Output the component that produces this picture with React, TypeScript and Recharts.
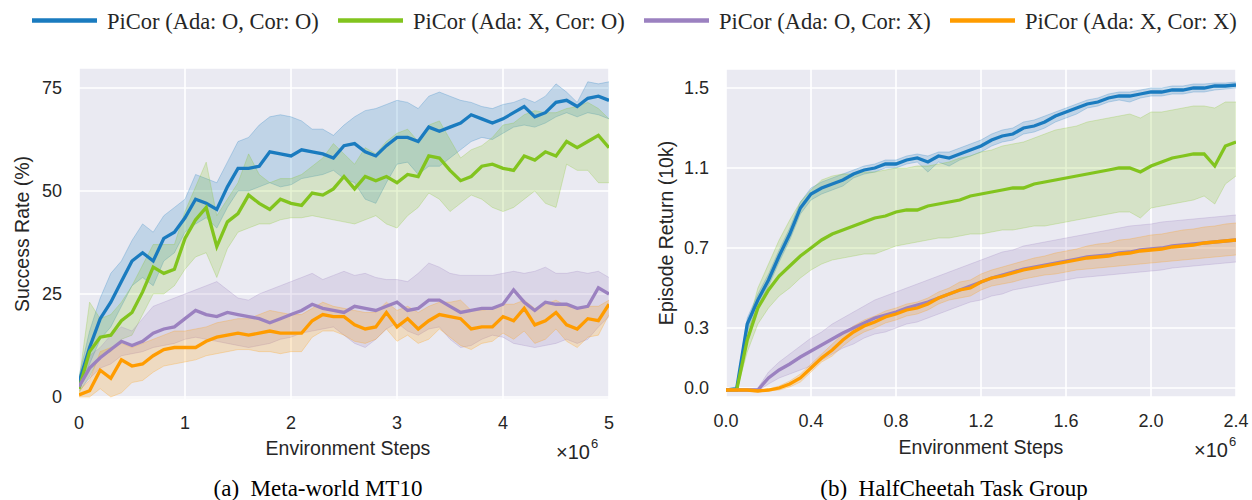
import React from 'react';
import { ComposedChart, Area, Line, XAxis, YAxis, CartesianGrid } from 'recharts';

const BLUE = '#1a7bbf';
const GREEN = '#82c41e';
const PURPLE = '#9b81c0';
const ORANGE = '#ff9c00';
const SANS = '"Liberation Sans", Arial, sans-serif';
const SERIF = '"Liberation Serif", "Times New Roman", serif';
const INK = '#262626';

const legendLabels = ['PiCor (Ada: O, Cor: O)', 'PiCor (Ada: X, Cor: O)', 'PiCor (Ada: O, Cor: X)', 'PiCor (Ada: X, Cor: X)'];

// (a) Meta-world MT10, steps in 1e6
const mtSteps = [
    0, 0.1, 0.2, 0.3, 0.4, 0.5, 0.6, 0.7, 0.8, 0.9,
    1.0, 1.1, 1.2, 1.3, 1.4, 1.5, 1.6, 1.7, 1.8, 1.9,
    2.0, 2.1, 2.2, 2.3, 2.4, 2.5, 2.6, 2.7, 2.8, 2.9,
    3.0, 3.1, 3.2, 3.3, 3.4, 3.5, 3.6, 3.7, 3.8, 3.9,
    4.0, 4.1, 4.2, 4.3, 4.4, 4.5, 4.6, 4.7, 4.8, 4.9,
    5.0,
];
const mtXTicks = [0, 1, 2, 3, 4, 5];
const mtYTicks = [0, 25, 50, 75];

const mtBlue = [
    3.5, 12, 19, 23, 28, 33, 35, 33, 38.5, 40,
    43.5, 48, 47, 45.5, 51, 55.5, 55.5, 56, 59.5, 59,
    58.5, 60, 59.5, 59, 58, 61, 61.5, 59.5, 58.5, 61,
    63, 63, 62, 65.5, 64.5, 65.5, 66.5, 68.5, 67.5, 66.5,
    67.5, 69, 70.5, 68, 69, 71.5, 72, 70.5, 72.5, 73,
    72,
];
const mtBlueHi = [
    5, 16, 24, 30, 33, 38, 42, 40, 44, 46,
    48, 54, 53, 52, 57, 62, 63, 66, 68, 68.5,
    68, 67, 65, 65, 63.5, 66, 68, 69.5, 70, 71,
    72, 71.5, 70, 73, 74, 73, 72, 71.5, 70.5, 70,
    71, 71.5, 72.5, 71.5, 73, 76, 74, 71.5, 76.5, 76,
    76.5,
];
const mtBlueLo = [
    2, 8, 14, 17, 22, 27, 29, 27, 33, 35,
    40, 42, 43.5, 41, 46, 50, 50, 51, 52, 51,
    51.5, 53, 53.5, 54, 55, 53, 52, 48, 47, 52,
    56.5, 57, 54, 56, 56, 58, 60, 62, 63, 62.5,
    64, 65.5, 66, 65.5, 66.5, 68, 69, 68, 69, 68.5,
    67.5,
];

const mtGreen = [
    2, 11, 14.5, 15, 18.5, 20.5, 25.5, 31.5, 30, 31,
    38.5, 43, 46, 36.5, 42.5, 44.5, 49, 47, 45.5, 48,
    47, 46.5, 49.5, 49, 50.5, 53.5, 50.5, 53.5, 52.5, 53.5,
    52, 54, 53.5, 58.5, 58, 55, 52.5, 53.5, 56, 56.5,
    55.5, 55, 58.5, 57.5, 59.5, 58.5, 62, 60.5, 62, 63.5,
    60.5,
];
const mtGreenHi = [
    4, 23, 19, 20, 23, 27, 32, 37, 37, 37,
    45, 51, 57, 44, 48, 52, 59, 54, 52, 53,
    53, 54, 56, 58, 61.5, 59, 56.5, 60.5, 59, 62,
    64, 65, 62, 66, 67, 62.5, 58, 60, 61, 63,
    66, 66.5, 68.5, 69.5, 69, 69, 70, 70.5, 71.5, 70,
    67.5,
];
const mtGreenLo = [
    1, 5, 10, 11, 14, 15, 20, 25, 25, 27,
    31, 34, 35, 29, 36, 40, 41, 42, 42, 43,
    43.5, 43.5, 44, 43.5, 43, 42.5, 42, 43, 44, 42,
    41, 44, 46, 49.5, 48, 45, 47, 49, 48, 46,
    45, 46, 48, 50, 47, 46, 56.5, 55, 55, 52,
    52,
];

const mtPurple = [
    2.5, 7, 9.5, 11.5, 13.5, 12.5, 13.5, 15.5, 16.5, 17,
    19, 21, 20, 19.5, 20.5, 20, 19.5, 19, 18, 19,
    20, 21, 22.5, 21.5, 21, 20.5, 22, 21.5, 21, 22,
    23, 21, 21.5, 23.5, 23.5, 22, 20.5, 21, 21.5, 21.5,
    22.5, 26, 23, 21, 23, 22.5, 22.5, 21.5, 22, 26.5,
    25,
];
const mtPurpleHi = [
    4, 10, 12, 15, 17, 16, 19, 22, 23, 24,
    25, 26, 27, 28, 26, 24, 23.5, 25, 26, 27,
    28, 29, 30, 28.5, 29.5, 30.5, 29.5, 30, 29, 28.5,
    28.5, 28, 30, 32.5, 31.5, 30, 29.5, 29.5, 29.5, 29.5,
    30, 30.5, 30, 30.5, 31.5, 30, 30, 30.5, 30, 30.5,
    29,
];
const mtPurpleLo = [
    1.5, 4.5, 7, 8, 10, 10.5, 11, 12, 12.5, 13,
    14, 14.5, 14, 13.5, 13, 12.5, 12, 12.5, 13, 14,
    14.5, 15.5, 16, 16.5, 17, 15, 13, 12, 14, 16.5,
    18, 16, 15, 16.5, 17, 14, 12, 12.5, 14, 15,
    14.5, 13, 12.5, 12, 12.5, 13, 14, 13, 14, 17,
    19.5,
];

const mtOrange = [
    0.5, 1.5, 6.5, 4.5, 9, 7.5, 8, 10, 11.5, 12,
    12, 12, 13.5, 14.5, 15, 15.5, 15, 15.5, 16, 15.5,
    15.5, 15.5, 18.5, 20, 19.5, 19.5, 17.5, 16.5, 17, 20.5,
    17, 19, 16.5, 18.5, 20, 19.5, 19, 16.5, 17, 17,
    19.5, 18.5, 21.5, 17.5, 18.5, 20.5, 17.5, 16.5, 19, 18.5,
    22.5,
];
const mtOrangeHi = [
    1.5, 4, 11, 12, 13, 12, 13, 14, 15, 16,
    16, 16.5, 17, 18, 18.5, 19, 19, 20, 21, 20.5,
    20, 20, 21.5, 23, 22, 21.5, 21, 20.5, 20.5, 23,
    21, 22, 20.5, 22, 23, 23, 23.5, 21, 21, 21.5,
    22.5, 22.5, 23.5, 21.5, 22.5, 23.5, 22, 21.5, 22, 22,
    23.5,
];
const mtOrangeLo = [
    0, 0, 2, 0, 1, 3.5, 4, 6, 7.5, 8,
    8.5, 9, 10, 10.5, 11, 11.5, 11.5, 11, 11, 10.5,
    11, 11, 14.5, 16, 16, 15, 13.5, 13, 14, 16.5,
    13.5, 15, 13, 14, 16.5, 14.5, 12.5, 11.5, 13, 13.5,
    15.5, 14, 16, 13, 14, 16.5, 13.5, 12, 14.5, 15,
    20,
];

// (b) HalfCheetah Task Group, steps in 1e6, return in 10k
const hcSteps = [
    0, 0.05, 0.1, 0.15, 0.2, 0.25, 0.3, 0.35, 0.4, 0.45,
    0.5, 0.55, 0.6, 0.65, 0.7, 0.75, 0.8, 0.85, 0.9, 0.95,
    1.0, 1.05, 1.1, 1.15, 1.2, 1.25, 1.3, 1.35, 1.4, 1.45,
    1.5, 1.55, 1.6, 1.65, 1.7, 1.75, 1.8, 1.85, 1.9, 1.95,
    2.0, 2.05, 2.1, 2.15, 2.2, 2.25, 2.3, 2.35, 2.4,
];
const hcXTicks = [0, 0.4, 0.8, 1.2, 1.6, 2.0, 2.4];
const hcYTicks = [0, 0.3, 0.7, 1.1, 1.5];

const hcBlue = [
    -0.01, -0.005, 0.32, 0.44, 0.54, 0.66, 0.77, 0.9, 0.97, 1.0,
    1.02, 1.04, 1.07, 1.09, 1.1, 1.12, 1.12, 1.14, 1.15, 1.13,
    1.16, 1.15, 1.17, 1.19, 1.21, 1.24, 1.26, 1.27, 1.3, 1.31,
    1.33, 1.36, 1.38, 1.4, 1.42, 1.43, 1.45, 1.46, 1.46, 1.47,
    1.48, 1.48, 1.49, 1.49, 1.5, 1.5, 1.51, 1.51, 1.515,
];
const hcBlueHi = [
    -0.005, 0.005, 0.35, 0.47, 0.57, 0.69, 0.8, 0.93, 1.0, 1.03,
    1.05, 1.07, 1.09, 1.11, 1.12, 1.14, 1.14, 1.16, 1.17, 1.16,
    1.18, 1.18, 1.2, 1.22, 1.24, 1.27, 1.29, 1.3, 1.33, 1.34,
    1.36, 1.38, 1.4, 1.42, 1.44, 1.45, 1.47, 1.48, 1.48, 1.49,
    1.5, 1.5, 1.51, 1.51, 1.52, 1.52, 1.525, 1.525, 1.53,
];
const hcBlueLo = [
    -0.015, -0.01, 0.28, 0.41, 0.51, 0.63, 0.74, 0.87, 0.94, 0.97,
    0.99, 1.01, 1.05, 1.07, 1.08, 1.1, 1.1, 1.12, 1.13, 1.08,
    1.13, 1.11, 1.14, 1.16, 1.18, 1.21, 1.23, 1.24, 1.27, 1.28,
    1.3, 1.33, 1.35, 1.37, 1.4, 1.41, 1.43, 1.44, 1.43, 1.45,
    1.46, 1.46, 1.47, 1.47, 1.48, 1.48, 1.49, 1.495, 1.5,
];

const hcGreen = [
    -0.01, -0.01, 0.24, 0.4, 0.49, 0.56, 0.61, 0.66, 0.7, 0.74,
    0.77, 0.79, 0.81, 0.83, 0.85, 0.86, 0.88, 0.89, 0.89, 0.91,
    0.92, 0.93, 0.94, 0.96, 0.97, 0.98, 0.99, 1.0, 1.0, 1.02,
    1.03, 1.04, 1.05, 1.06, 1.07, 1.08, 1.09, 1.1, 1.1, 1.08,
    1.11, 1.13, 1.15, 1.16, 1.17, 1.17, 1.11, 1.21, 1.23,
];
const hcGreenHi = [
    -0.005, 0.0, 0.3, 0.5, 0.62, 0.74, 0.84, 0.93, 0.99, 1.04,
    1.06, 1.07, 1.07, 1.08, 1.08, 1.09, 1.1, 1.1, 1.11, 1.11,
    1.12, 1.13, 1.15, 1.16, 1.18, 1.19, 1.21, 1.22, 1.23, 1.25,
    1.27, 1.29, 1.3, 1.31, 1.33, 1.34, 1.35, 1.36, 1.37, 1.35,
    1.38, 1.38, 1.39, 1.4, 1.41, 1.41, 1.4, 1.43, 1.43,
];
const hcGreenLo = [
    -0.015, -0.015, 0.18, 0.32, 0.4, 0.46, 0.5, 0.55, 0.59, 0.62,
    0.64, 0.65, 0.66, 0.67, 0.67, 0.69, 0.71, 0.72, 0.73, 0.74,
    0.75, 0.75, 0.76, 0.77, 0.77, 0.78, 0.79, 0.79, 0.8, 0.81,
    0.81, 0.82, 0.83, 0.84, 0.85, 0.86, 0.87, 0.88, 0.88, 0.85,
    0.9, 0.91, 0.92, 0.93, 0.94, 0.96, 0.92, 1.02, 1.06,
];

const hcPurple = [
    -0.01, -0.01, -0.01, -0.01, 0.05, 0.09, 0.12, 0.155, 0.185, 0.215,
    0.245, 0.275, 0.3, 0.325, 0.35, 0.365, 0.38, 0.4, 0.415, 0.43,
    0.45, 0.47, 0.49, 0.51, 0.53, 0.55, 0.565, 0.58, 0.595, 0.605,
    0.615, 0.625, 0.635, 0.645, 0.655, 0.66, 0.665, 0.675, 0.68, 0.69,
    0.695, 0.7, 0.71, 0.715, 0.72, 0.725, 0.73, 0.735, 0.74,
];
const hcPurpleHi = [
    -0.005, -0.005, -0.005, 0.0, 0.08, 0.13, 0.17, 0.21, 0.25, 0.28,
    0.32, 0.35, 0.38, 0.41, 0.44, 0.46, 0.48, 0.5, 0.52, 0.54,
    0.56, 0.58, 0.6, 0.62, 0.64, 0.66, 0.68, 0.69, 0.71, 0.72,
    0.73, 0.74, 0.75, 0.76, 0.77, 0.78, 0.79, 0.8, 0.81, 0.815,
    0.82, 0.83, 0.835, 0.84, 0.845, 0.85, 0.855, 0.86, 0.865,
];
const hcPurpleLo = [
    -0.015, -0.015, -0.015, -0.015, 0.02, 0.05, 0.07, 0.09, 0.11, 0.14,
    0.17, 0.2, 0.22, 0.25, 0.27, 0.28, 0.3, 0.32, 0.33, 0.35,
    0.37, 0.39, 0.41, 0.43, 0.44, 0.46, 0.47, 0.49, 0.5, 0.51,
    0.52, 0.53, 0.54, 0.55, 0.555, 0.56, 0.565, 0.57, 0.575, 0.58,
    0.585, 0.59, 0.6, 0.605, 0.61, 0.615, 0.62, 0.625, 0.63,
];

const hcOrange = [
    -0.01, -0.01, -0.01, -0.015, -0.01, 0.0, 0.02, 0.05, 0.1, 0.15,
    0.19, 0.24, 0.28, 0.31, 0.33, 0.355, 0.37, 0.39, 0.4, 0.42,
    0.45, 0.47, 0.49, 0.5, 0.53, 0.55, 0.56, 0.575, 0.59, 0.6,
    0.61, 0.62, 0.63, 0.64, 0.65, 0.655, 0.66, 0.67, 0.675, 0.685,
    0.69, 0.695, 0.705, 0.71, 0.715, 0.725, 0.73, 0.735, 0.74,
];
const hcOrangeHi = [
    -0.005, -0.005, -0.005, -0.01, -0.005, 0.01, 0.035, 0.07, 0.12, 0.17,
    0.22, 0.27, 0.31, 0.34, 0.36, 0.385, 0.4, 0.42, 0.43, 0.45,
    0.48, 0.5, 0.53, 0.54, 0.57, 0.59, 0.605, 0.62, 0.635, 0.65,
    0.66, 0.675, 0.685, 0.695, 0.71, 0.72, 0.725, 0.74, 0.745, 0.755,
    0.765, 0.77, 0.78, 0.79, 0.795, 0.805, 0.81, 0.82, 0.825,
];
const hcOrangeLo = [
    -0.015, -0.015, -0.015, -0.02, -0.015, -0.01, 0.005, 0.03, 0.08, 0.13,
    0.16, 0.21, 0.25, 0.28, 0.3, 0.325, 0.34, 0.36, 0.37, 0.39,
    0.42, 0.44, 0.45, 0.46, 0.49, 0.51, 0.52, 0.53, 0.545, 0.555,
    0.565, 0.57, 0.58, 0.59, 0.595, 0.6, 0.605, 0.61, 0.615, 0.62,
    0.625, 0.63, 0.635, 0.64, 0.645, 0.65, 0.655, 0.66, 0.665,
];

const SERIES = [
    { key: 'ada_cor', color: BLUE },
    { key: 'cor', color: GREEN },
    { key: 'ada', color: PURPLE },
    { key: 'none', color: ORANGE },
];

type Group = { mean: number[]; lo: number[]; hi: number[] };

const buildRows = (steps: number[], groups: Group[]) =>
    steps.map((t, i) => {
        const row: Record<string, any> = { t };
        groups.forEach((g, k) => {
            row[SERIES[k].key] = g.mean[i];
            row[SERIES[k].key + '_band'] = [g.lo[i], g.hi[i]];
        });
        return row;
    });

const mtRows = buildRows(mtSteps, [
    { mean: mtBlue, lo: mtBlueLo, hi: mtBlueHi },
    { mean: mtGreen, lo: mtGreenLo, hi: mtGreenHi },
    { mean: mtPurple, lo: mtPurpleLo, hi: mtPurpleHi },
    { mean: mtOrange, lo: mtOrangeLo, hi: mtOrangeHi },
]);

const hcRows = buildRows(hcSteps, [
    { mean: hcBlue, lo: hcBlueLo, hi: hcBlueHi },
    { mean: hcGreen, lo: hcGreenLo, hi: hcGreenHi },
    { mean: hcPurple, lo: hcPurpleLo, hi: hcPurpleHi },
    { mean: hcOrange, lo: hcOrangeLo, hi: hcOrangeHi },
]);

interface PanelProps {
    rows: Record<string, any>[];
    width: number;
    height: number;
    margin: { top: number; right: number; bottom: number; left: number };
    yWidth: number;
    xDomain: [number, number];
    xTicks: number[];
    yDomain: [number, number];
    yTicks: number[];
    fmt?: (v: number) => string;
}

const tickStyle = { fill: INK, fontSize: 18, fontFamily: SANS };

const Panel: React.FC<PanelProps> = ({ rows, width, height, margin, yWidth, xDomain, xTicks, yDomain, yTicks, fmt }) => (
    <ComposedChart width={width} height={height} data={rows} margin={margin}>
        <CartesianGrid fill="#eaeaf2" fillOpacity={1} stroke="#ffffff" strokeWidth={1.6} />
        <XAxis
            type="number"
            dataKey="t"
            domain={xDomain}
            ticks={xTicks}
            tickFormatter={fmt}
            tick={tickStyle}
            tickLine={false}
            axisLine={false}
            tickSize={0}
            tickMargin={17}
            height={30}
            allowDataOverflow
        />
        <YAxis
            type="number"
            domain={yDomain}
            ticks={yTicks}
            tickFormatter={fmt}
            tick={tickStyle}
            tickLine={false}
            axisLine={false}
            tickSize={0}
            tickMargin={17}
            width={yWidth}
            allowDataOverflow
        />
        {SERIES.map((s) => (
            <Area
                key={s.key + '_band'}
                type="linear"
                dataKey={s.key + '_band'}
                fill={s.color}
                fillOpacity={0.2}
                stroke={s.color}
                strokeOpacity={0.25}
                strokeWidth={1}
                isAnimationActive={false}
                activeDot={false}
            />
        ))}
        {SERIES.map((s) => (
            <Line
                key={s.key}
                type="linear"
                dataKey={s.key}
                stroke={s.color}
                strokeWidth={3.3}
                dot={false}
                activeDot={false}
                isAnimationActive={false}
            />
        ))}
    </ComposedChart>
);

const legendX = [32, 338, 644, 950];
const legendColors = [BLUE, GREEN, PURPLE, ORANGE];

export default function App() {
    return (
        <div style={{ position: 'absolute', left: 0, top: 0, width: 1252, height: 500, background: '#ffffff' }}>
            <div style={{ position: 'absolute', left: 0, top: 0 }}>
                <Panel
                    rows={mtRows}
                    width={620}
                    height={470}
                    margin={{ top: 68, right: 11, bottom: 41, left: 0 }}
                    yWidth={79}
                    xDomain={[0, 5]}
                    xTicks={mtXTicks}
                    yDomain={[-0.5, 79.85]}
                    yTicks={mtYTicks}
                />
            </div>
            <div style={{ position: 'absolute', left: 640, top: 0 }}>
                <Panel
                    rows={hcRows}
                    width={610}
                    height={470}
                    margin={{ top: 69, right: 14, bottom: 43, left: 0 }}
                    yWidth={86}
                    xDomain={[0, 2.4]}
                    xTicks={hcXTicks}
                    yDomain={[-0.045, 1.595]}
                    yTicks={hcYTicks}
                    fmt={(v) => v.toFixed(1)}
                />
            </div>
            <svg width={1252} height={500} style={{ position: 'absolute', left: 0, top: 0, pointerEvents: 'none' }}>
                {legendLabels.map((label, i) => (
                    <g key={label}>
                        <line x1={legendX[i]} x2={legendX[i] + 65} y1={20.5} y2={20.5} stroke={legendColors[i]} strokeWidth={4.5} />
                        <text x={legendX[i] + 75} y={29} fontFamily={SERIF} fontSize={22.5} fill={INK}>{label}</text>
                    </g>
                ))}

                <text transform="translate(29,234) rotate(-90)" textAnchor="middle" fontFamily={SANS} fontSize={19.5} fill={INK}>Success Rate (%)</text>
                <text x={348} y={455} textAnchor="middle" fontFamily={SANS} fontSize={19.5} fill={INK}>Environment Steps</text>
                <text x={556} y={459} fontFamily={SANS} fontSize={20} fill={INK}>
                    ×10<tspan dx={1} dy={-11} fontSize={13}>6</tspan>
                </text>
                <text x={318} y={496} textAnchor="middle" fontFamily={SERIF} fontSize={23} fill="#000">(a)&#160; Meta-world MT10</text>

                <text transform="translate(673,233) rotate(-90)" textAnchor="middle" fontFamily={SANS} fontSize={19.5} fill={INK}>Episode Return (10k)</text>
                <text x={981} y={454} textAnchor="middle" fontFamily={SANS} fontSize={19.5} fill={INK}>Environment Steps</text>
                <text x={1194} y={457} fontFamily={SANS} fontSize={20} fill={INK}>
                    ×10<tspan dx={1} dy={-11} fontSize={13}>6</tspan>
                </text>
                <text x={954} y={496} textAnchor="middle" fontFamily={SERIF} fontSize={23} fill="#000">(b)&#160; HalfCheetah Task Group</text>
            </svg>
        </div>
    );
}
